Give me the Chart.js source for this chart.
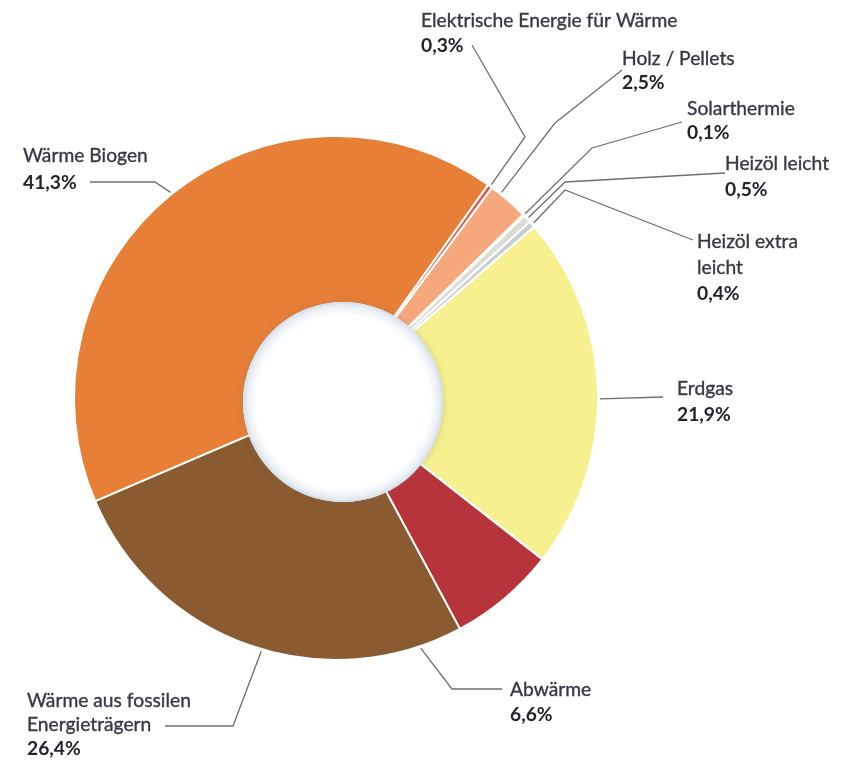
<!DOCTYPE html>
<html lang="de">
<head>
<meta charset="utf-8">
<title>Wärmebereitstellung nach Energieträgern</title>
<script src="https://cdn.jsdelivr.net/npm/chart.js@4.4.1/dist/chart.umd.min.js"></script>
<style>
  html, body { margin: 0; padding: 0; background: #ffffff; }
  #wrap { width: 853px; height: 763px; position: relative; }
  canvas { display: block; }
</style>
</head>
<body>
<div id="wrap"><canvas id="chart" width="853" height="763"></canvas></div>
<script>
// Energy sources for heat, share in percent (clockwise from the top right)
const categories = [
  ["Elektrische Energie für Wärme"],
  ["Holz / Pellets"],
  ["Solarthermie"],
  ["Heizöl leicht"],
  ["Heizöl extra", "leicht"],
  ["Erdgas"],
  ["Abwärme"],
  ["Wärme aus fossilen", "Energieträgern"],
  ["Wärme Biogen"]
];
const shares = [0.3, 2.5, 0.1, 0.5, 0.4, 21.9, 6.6, 26.4, 41.3];
const sliceColors = [
  "#E2574C", "#F5A87C", "#F4EDA2", "#DCDCD4", "#C8CECE",
  "#F7F08E", "#B7343A", "#8A5A30", "#E87F37"
];

// Callout layout: where the leader line leaves the slice (fraction of the arc),
// the elbow, the line end, and the text block (left x, first baseline, line step)
const callouts = [
  { frac: 0.5,  elbow: [525, 137], end: [472, 45],  text: [421, 27, 25] },
  { frac: 0.25, elbow: [555, 123], end: [622, 70],  text: [622, 65, 24] },
  { frac: 0.5,  elbow: [592, 148], end: [682, 122], text: [687, 115, 24] },
  { frac: 0.5,  elbow: [565, 182], end: [725, 173], text: [725, 170, 26] },
  { frac: 0.5,  elbow: [565, 190], end: [693, 240], text: [697, 248, 26] },
  { frac: 0.52, elbow: null,       end: [663, 397], text: [677, 395, 26] },
  { frac: 1.4,  elbow: [452, 689], end: [502, 689], text: [510, 696, 25] },
  { frac: 0.47, elbow: [233, 726], end: [165, 726], text: [27, 707, 24] },
  { frac: 0.5,  elbow: [155, 182], end: [90, 182],  text: [23, 162, 27] }
];

const fmtPercent = v => v.toFixed(1).replace(".", ",") + "%";

const FONT_FAMILY = "Lato, 'Open Sans', 'DejaVu Sans', sans-serif";
const TEXT_SIZE = 18.5;

// White disc in the middle with a soft, faint rim
const holePlugin = {
  id: "hole",
  afterDatasetsDraw(chart) {
    const arc = chart.getDatasetMeta(0).data[0];
    if (!arc) return;
    const ctx = chart.ctx;
    const cx = arc.x + 7, cy = arc.y + 4, r = 100;
    ctx.save();
    ctx.shadowColor = "rgba(120,120,120,0.35)";
    ctx.shadowBlur = 6;
    ctx.beginPath();
    ctx.arc(cx, cy, r, 0, Math.PI * 2);
    ctx.fillStyle = "#ffffff";
    ctx.fill();
    ctx.restore();
    ctx.save();
    const g = ctx.createRadialGradient(cx, cy, 0, cx, cy, r);
    g.addColorStop(0, "rgba(255,255,255,1)");
    g.addColorStop(0.87, "rgba(255,255,255,1)");
    g.addColorStop(0.96, "rgba(232,239,244,1)");
    g.addColorStop(1, "rgba(212,222,230,1)");
    ctx.beginPath();
    ctx.arc(cx, cy, r, 0, Math.PI * 2);
    ctx.fillStyle = g;
    ctx.fill();
    ctx.restore();
  }
};

// Leader lines and the category / percent text
const calloutPlugin = {
  id: "callouts",
  afterDraw(chart) {
    const ctx = chart.ctx;
    const meta = chart.getDatasetMeta(0);
    // narrow the type so the longest label keeps its width
    ctx.save();
    ctx.font = TEXT_SIZE + "px " + FONT_FAMILY;
    const sx = Math.min(1.04, 266 / ctx.measureText("Elektrische Energie für Wärme").width);
    ctx.restore();

    meta.data.forEach((arc, i) => {
      const c = callouts[i];
      const a = arc.startAngle + c.frac * (arc.endAngle - arc.startAngle);
      const R = arc.outerRadius + 2;
      const ax = arc.x + Math.cos(a) * R;
      const ay = arc.y + Math.sin(a) * R;

      ctx.save();
      ctx.strokeStyle = "#6e6e70";
      ctx.lineWidth = 1.3;
      ctx.beginPath();
      ctx.moveTo(ax, ay);
      if (c.elbow) ctx.lineTo(c.elbow[0], c.elbow[1]);
      ctx.lineTo(c.end[0], c.end[1]);
      ctx.stroke();
      ctx.restore();

      const [tx, ty, step] = c.text;
      const lines = categories[i];
      ctx.save();
      ctx.translate(tx, 0);
      ctx.scale(sx, 1);
      ctx.textBaseline = "alphabetic";
      ctx.textAlign = "left";
      ctx.fillStyle = "#383844";
      ctx.font = TEXT_SIZE + "px " + FONT_FAMILY;
      lines.forEach((ln, k) => {
        // a hair of stroke gives the medium weight of the labels
        ctx.lineWidth = 0.35;
        ctx.strokeStyle = "#383844";
        ctx.strokeText(ln, 0, ty + k * step);
        ctx.fillText(ln, 0, ty + k * step);
      });
      ctx.fillStyle = "#23232b";
      ctx.font = "bold " + TEXT_SIZE + "px " + FONT_FAMILY;
      ctx.fillText(fmtPercent(shares[i]), 0, ty + lines.length * step);
      ctx.restore();
    });
  }
};

new Chart(document.getElementById("chart"), {
  type: "doughnut",
  data: {
    labels: categories.map(l => l.join(" ")),
    datasets: [{
      data: shares,
      backgroundColor: sliceColors,
      borderColor: "#ffffff",
      borderWidth: 2,
      hoverOffset: 0
    }]
  },
  options: {
    responsive: false,
    animation: false,
    events: [],
    rotation: 35.5,
    cutout: "30%",
    layout: { padding: { left: 73, right: 254, top: 135, bottom: 102 } },
    plugins: {
      legend: { display: false },
      tooltip: { enabled: false }
    }
  },
  plugins: [holePlugin, calloutPlugin]
});
</script>
</body>
</html>
